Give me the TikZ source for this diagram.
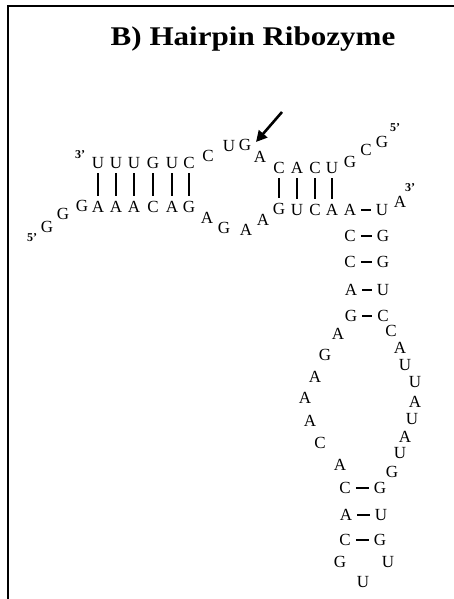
\documentclass[tikz,border=0pt]{standalone}
\usepackage{fontspec}
\setmainfont{Liberation Serif}
\usetikzlibrary{arrows.meta}
\begin{document}
\begin{tikzpicture}[x=1pt,y=-1pt,
  nt/.style={inner sep=0pt,font=\fontsize{17}{17}\selectfont},
  endlbl/.style={inner sep=0pt,font=\bfseries\fontsize{12}{12}\selectfont},
  bpbar/.style={line width=2pt},
  bpdash/.style={line width=1.5pt,shorten <=5pt,shorten >=5pt},
  frame/.style={line width=2.5pt},
  cutarrow/.style={line width=2.6pt,-{Triangle[length=11pt,width=11pt]}}]
\useasboundingbox (0,0) rectangle (454,599);
\draw[frame] (8,599) -- (8,6) -- (454,6);
\node[anchor=base,font=\bfseries\fontsize{27}{27}\selectfont,xscale=1.15] (title) at (253,46) {B) Hairpin Ribozyme};
% top strand
\node[endlbl] (p3a) at (80,155) {3'};
\node[nt] (t1) at (98,163) {U};
\node[nt] (t2) at (116,163) {U};
\node[nt] (t3) at (134,163) {U};
\node[nt] (t4) at (153,163) {G};
\node[nt] (t5) at (172,163) {U};
\node[nt] (t6) at (189,163) {C};
\node[nt] (t7) at (208,156) {C};
\node[nt] (t8) at (229,146) {U};
\node[nt] (t9) at (245,145) {G};
\node[nt] (t10) at (260,157) {A};
\node[nt] (t11) at (279,168) {C};
\node[nt] (t12) at (297,168) {A};
\node[nt] (t13) at (315,168) {C};
\node[nt] (t14) at (332,168) {U};
\node[nt] (t15) at (350,162) {G};
\node[nt] (t16) at (366,150) {C};
\node[nt] (t17) at (382,142) {G};
\node[endlbl] (p5b) at (395,128) {5'};
% bottom strand
\node[endlbl] (p5a) at (32,238) {5'};
\node[nt] (b1) at (47,227) {G};
\node[nt] (b2) at (63,214) {G};
\node[nt] (b3) at (82,206) {G};
\node[nt] (b4) at (98,207) {A};
\node[nt] (b5) at (116,207) {A};
\node[nt] (b6) at (134,207) {A};
\node[nt] (b7) at (153,207) {C};
\node[nt] (b8) at (172,207) {A};
\node[nt] (b9) at (189,207) {G};
\node[nt] (b10) at (207,218) {A};
\node[nt] (b11) at (224,228) {G};
\node[nt] (b12) at (246,230) {A};
\node[nt] (b13) at (263,220) {A};
\node[nt] (b14) at (279,209) {G};
\node[nt] (b15) at (297,210) {U};
\node[nt] (b16) at (315,210) {C};
\node[nt] (b17) at (332,210) {A};
\node[nt] (b18) at (350,210) {A};
\node[nt] (b19) at (382,210) {U};
\node[nt] (b20) at (400,202) {A};
\node[endlbl] (p3b) at (410,188) {3'};
% stem 1
\node[nt] (s1) at (350,236) {C};
\node[nt] (g1) at (383,236) {G};
\node[nt] (s2) at (350,262) {C};
\node[nt] (g2) at (383,262) {G};
\node[nt] (s3) at (351,290) {A};
\node[nt] (g3) at (383,290) {U};
\node[nt] (s4) at (351,316) {G};
\node[nt] (g4) at (383,316) {C};
% internal loop
\node[nt] (l1) at (338,334) {A};
\node[nt] (l2) at (325,355) {G};
\node[nt] (l3) at (315,377) {A};
\node[nt] (l4) at (305,398) {A};
\node[nt] (l5) at (310,421) {A};
\node[nt] (l6) at (320,443) {C};
\node[nt] (l7) at (340,465) {A};
\node[nt] (r1) at (391,331) {C};
\node[nt] (r2) at (400,348) {A};
\node[nt] (r3) at (405,365) {U};
\node[nt] (r4) at (415,382) {U};
\node[nt] (r5) at (415,402) {A};
\node[nt] (r6) at (412,419) {U};
\node[nt] (r7) at (405,437) {A};
\node[nt] (r8) at (400,453) {U};
\node[nt] (r9) at (392,472) {G};
% stem 2
\node[nt] (s5) at (345,488) {C};
\node[nt] (g5) at (380,488) {G};
\node[nt] (s6) at (346,515) {A};
\node[nt] (g6) at (381,515) {U};
\node[nt] (s7) at (345,540) {C};
\node[nt] (g7) at (380,540) {G};
\node[nt] (h1) at (340,562) {G};
\node[nt] (h2) at (363,582) {U};
\node[nt] (h3) at (388,562) {U};
% base pair bars
\foreach \a/\b in {t1/b4,t2/b5,t3/b6,t4/b7,t5/b8,t6/b9,t11/b14,t12/b15,t13/b16,t14/b17}
  \draw[bpbar] ([yshift=-4.5pt]\a.south) -- ([yshift=5.5pt]\a.south |- \b.north);
\foreach \a/\b in {b18/b19,s1/g1,s2/g2,s3/g3,s4/g4,s5/g5,s6/g6,s7/g7}
  \draw[bpdash] (\a.east) -- (\b.west);
% cleavage arrow
\coordinate (arrS) at (282,112);
\coordinate (arrT) at (256,142);
\draw[cutarrow] (arrS) -- (arrT);
\end{tikzpicture}
\end{document}
